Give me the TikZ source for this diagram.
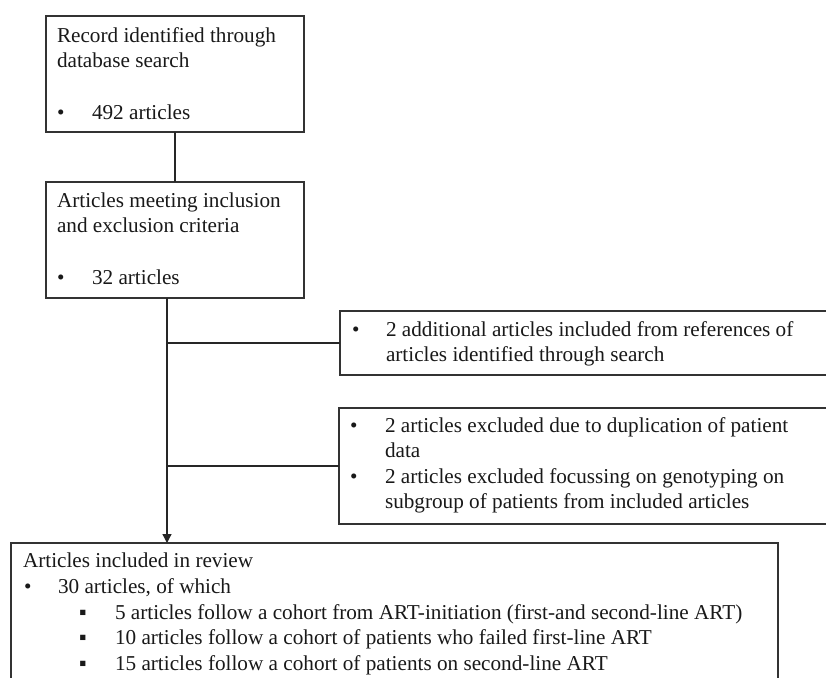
\documentclass[tikz,border=0pt]{standalone}
\usepackage{fontspec}
\setmainfont{Liberation Serif}
\usetikzlibrary{arrows.meta}
\begin{document}
\begin{tikzpicture}[x=1pt,y=-1pt,
  frame/.style={draw=black!80, line width=1.3pt, inner sep=0pt, outer sep=0pt, anchor=north west},
  txt/.style={anchor=base west, inner sep=0pt, outer sep=0pt, text=black!90, font=\fontsize{21.2}{25}\selectfont},
  link/.style={draw=black!85, line width=1.3pt},
  arrowlink/.style={link, -{Triangle[width=9pt,length=9pt]}}]
\useasboundingbox (0,0) rectangle (826,677);
\fill[white] (0,0) rectangle (826,677);
\clip (0,0) rectangle (826,677);
% boxes
\node[frame, minimum width=258pt, minimum height=116pt] (b1) at (46,16) {};
\node[frame, minimum width=258pt, minimum height=116pt] (b2) at (46,182) {};
\node[frame, minimum width=490pt, minimum height=64pt] (b3) at (340,311) {};
\node[frame, minimum width=491pt, minimum height=116pt] (b4) at (339,408) {};
\node[frame, minimum width=767pt, minimum height=160pt] (b5) at (11,543) {};
% texts box 1
\node[txt] (t1a) at (57,42) {Record identified through};
\node[txt] (t1b) at (57,67) {database search};
\node[txt] (t1c) at (57,119) {•};
\node[txt] (t1d) at (92,119) {492 articles};
% box 2
\node[txt] (t2a) at (57,207) {Articles meeting inclusion};
\node[txt] (t2b) at (57,232) {and exclusion criteria};
\node[txt] (t2c) at (57,284) {•};
\node[txt] (t2d) at (92,284) {32 articles};
% box 3
\node[txt] (t3a) at (352,336) {•};
\node[txt] (t3b) at (386,336) {2 additional articles included from references of};
\node[txt] (t3c) at (386,361) {articles identified through search};
% box 4
\node[txt] (t4a) at (350,432) {•};
\node[txt] (t4b) at (385,432) {2 articles excluded due to duplication of patient};
\node[txt] (t4c) at (385,457) {data};
\node[txt] (t4d) at (350,483) {•};
\node[txt] (t4e) at (385,483) {2 articles excluded focussing on genotyping on};
\node[txt] (t4f) at (385,508) {subgroup of patients from included articles};
% box 5
\node[txt] (t5a) at (23,567) {Articles included in review};
\node[txt] (t5b) at (24,593) {•};
\node[txt] (t5c) at (58,593) {30 articles, of which};
\node[txt] (t5d) at (79,619) {▪};
\node[txt] (t5e) at (115,619) {5 articles follow a cohort from ART-initiation (first-and second-line ART)};
\node[txt] (t5f) at (79,644) {▪};
\node[txt] (t5g) at (115,644) {10 articles follow a cohort of patients who failed first-line ART};
\node[txt] (t5h) at (79,670) {▪};
\node[txt] (t5i) at (115,670) {15 articles follow a cohort of patients on second-line ART};
% connectors
\draw[link] (b1.south) -- (b2.north);
\coordinate (tap) at ([xshift=-8pt]b2.south);
\draw[arrowlink] (tap) -- (tap |- b5.north);
\draw[link] (tap |- b3.west) -- (b3.west);
\draw[link] (tap |- b4.west) -- (b4.west);
\end{tikzpicture}
\end{document}
